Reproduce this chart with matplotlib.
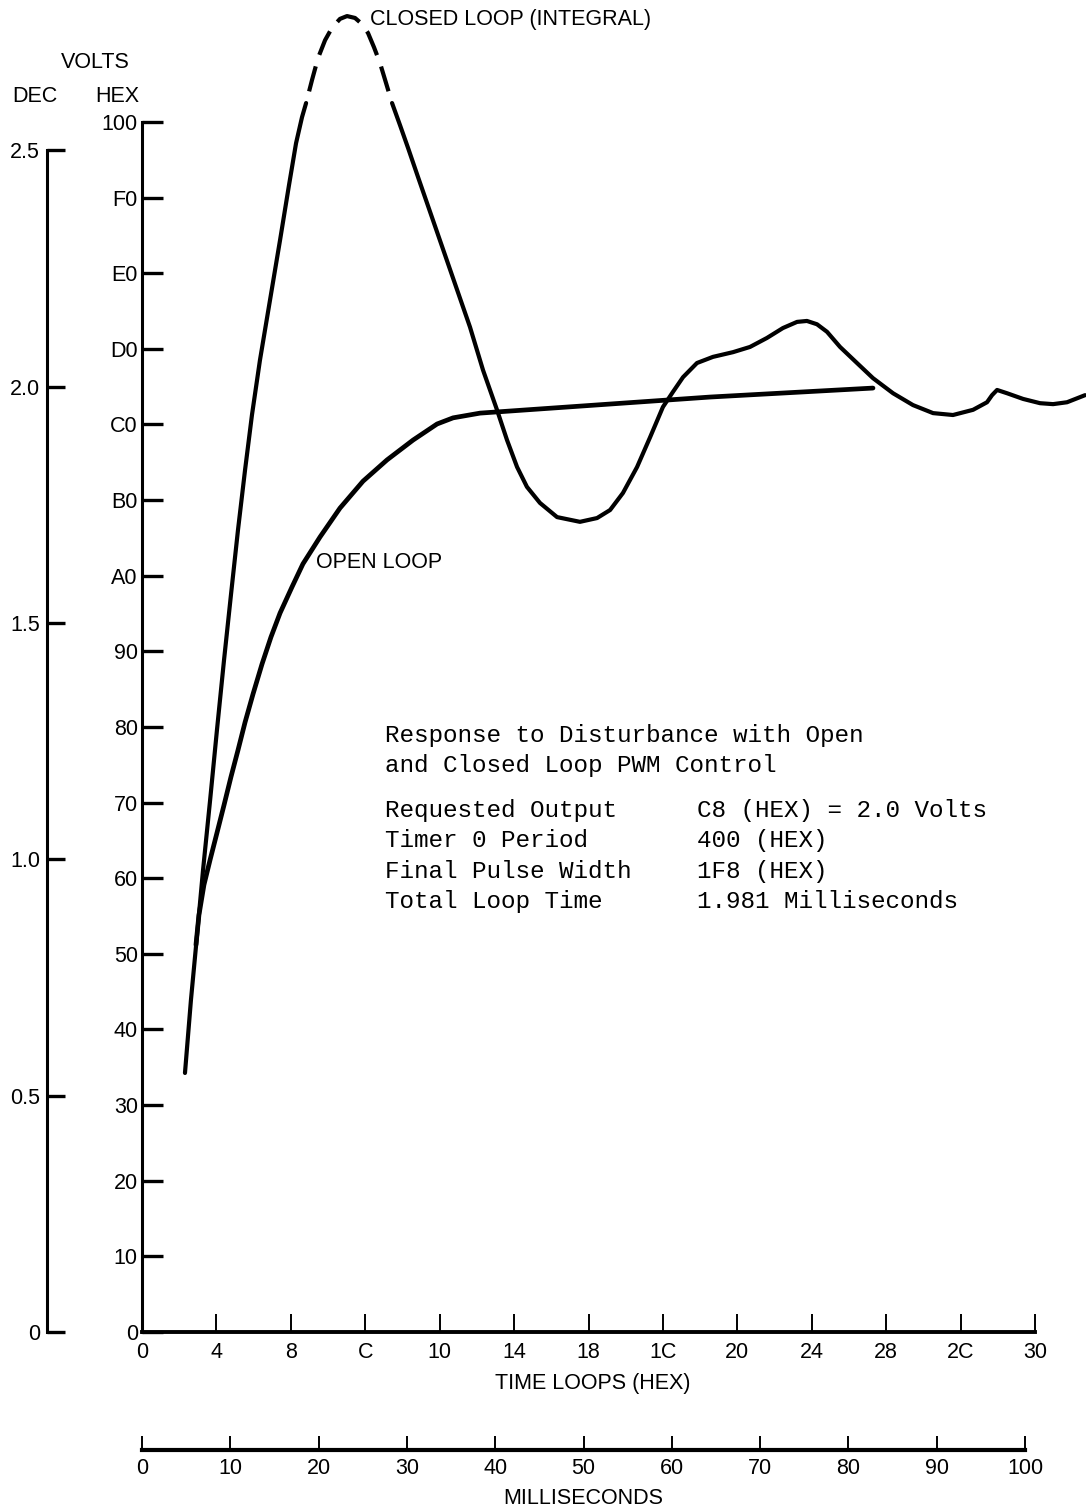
import matplotlib.pyplot as plt

# ------------------------------------------------------------
# Response to disturbance, open vs closed loop PWM control
# x = time loops (hex axis, stored as decimal numbers)
# y = output counts (hex axis, stored as decimal numbers), 100 counts = 1 V
# ------------------------------------------------------------
closed_x = [2.31, 2.63, 2.96, 3.28, 3.66, 4.03, 4.41, 4.78, 5.16, 5.54, 5.91, 6.34,
            6.88, 7.42, 7.90, 8.28, 8.60, 8.82, 9.14, 9.46, 9.84, 10.21, 10.64, 11.02,
            11.45, 11.83, 12.15, 12.47, 12.79, 13.12, 13.44, 13.87, 14.30, 14.84,
            17.63, 18.33, 19.08, 19.62, 20.16, 20.69, 21.39, 22.31, 23.54, 24.46,
            25.16, 25.85, 26.61, 27.31, 28.00, 28.54, 29.08, 29.83, 30.69, 31.77,
            32.68, 33.59, 34.45, 35.21, 35.74, 36.28, 36.82, 37.52, 38.43, 39.29,
            40.37, 41.44, 42.52, 43.59, 44.67, 45.42, 45.69, 45.96, 46.50, 47.36,
            48.27, 48.97, 49.72, 50.69]
closed_y = [54.8, 70.2, 84.0, 97.7, 112.5, 127.4, 142.2, 155.9, 169.7, 182.4, 194.0, 205.6,
            218.3, 231.0, 242.6, 251.5, 257.0, 260.0, 264.9, 269.5, 273.3, 275.9, 277.8, 278.4,
            278.0, 276.7, 274.8, 271.8, 268.5, 264.2, 260.0, 255.3, 250.5, 244.3,
            212.6, 203.5, 195.1, 188.7, 183.0, 178.8, 175.4, 172.4, 171.4, 172.2,
            173.9, 177.5, 183.0, 189.3, 195.7, 198.9, 202.0, 205.0, 206.3, 207.3,
            208.4, 210.3, 212.4, 213.7, 213.9, 213.2, 211.6, 208.4, 205.0, 201.8,
            198.6, 196.1, 194.4, 194.0, 195.1, 196.7, 198.2, 199.3, 198.6, 197.4,
            196.5, 196.3, 196.7, 198.2]
# part of the closed loop trace drawn dashed (off the top of the recorder)
dash_from, dash_to = 8.82, 13.44

open_x = [2.90, 3.06, 3.33, 3.66, 4.03, 4.41, 4.78, 5.16, 5.54, 5.97, 6.45, 6.93,
          7.42, 8.06, 8.65, 9.57, 10.64, 11.88, 13.17, 14.57, 15.86, 16.72, 18.17,
          30.53, 39.29]
open_y = [81.9, 88.2, 94.6, 99.9, 105.6, 111.5, 117.4, 123.1, 129.0, 135.0, 141.3, 147.0,
          152.1, 157.6, 162.5, 168.2, 174.3, 180.0, 184.5, 188.7, 192.1, 193.4, 194.4,
          197.8, 199.7]

hex_ticks = list(range(0, 257, 16))
hex_labels = ['0', '10', '20', '30', '40', '50', '60', '70', '80', '90',
              'A0', 'B0', 'C0', 'D0', 'E0', 'F0', '100']
loop_ticks = list(range(0, 49, 4))
loop_labels = ['0', '4', '8', 'C', '10', '14', '18', '1C', '20', '24', '28', '2C', '30']
volt_ticks = [0, 0.5, 1.0, 1.5, 2.0, 2.5]
volt_labels = ['0', '0.5', '1.0', '1.5', '2.0', '2.5']
ms_ticks = list(range(0, 101, 10))

title_lines = ['Response to Disturbance with Open', 'and Closed Loop PWM Control']
param_names = ['Requested Output', 'Timer 0 Period', 'Final Pulse Width', 'Total Loop Time']
param_values = ['C8 (HEX) = 2.0 Volts', '400 (HEX)', '1F8 (HEX)', '1.981 Milliseconds']

# ------------------------------------------------------------
plt.rcParams['font.family'] = ['Liberation Sans', 'DejaVu Sans']
W, H = 1086, 1511
fs = 15.5


def fx(px):
    return px / W


def fy(py):
    return 1 - py / H


fig = plt.figure(figsize=(W / 100, H / 100), dpi=100)

# main axes: hex volts vs time loops
ax = fig.add_axes([fx(142), fy(1332), fx(W - 142), 1332 / H])
ax.set_xlim(0, 50.74)
ax.set_ylim(0, 281.8)
ax.patch.set_visible(False)

solid1 = [(x, y) for x, y in zip(closed_x, closed_y) if x <= dash_from]
dashed = [(x, y) for x, y in zip(closed_x, closed_y) if dash_from <= x <= dash_to]
solid2 = [(x, y) for x, y in zip(closed_x, closed_y) if x >= dash_to]
for seg in (solid1, solid2):
    ax.plot(*zip(*seg), color='black', lw=3.0, solid_capstyle='round', solid_joinstyle='round')
ax.plot(*zip(*dashed), color='black', lw=3.0, linestyle=(6.2, (6.2, 2.9)))
ax.plot(open_x, open_y, color='black', lw=3.4, solid_capstyle='round', solid_joinstyle='round')

for s in ('top', 'right'):
    ax.spines[s].set_visible(False)
ax.spines['left'].set_bounds(0, 256)
ax.spines['left'].set_linewidth(2.2)
ax.spines['bottom'].set_bounds(0, 48)
ax.spines['bottom'].set_linewidth(2.8)

ax.set_yticks(hex_ticks, hex_labels)
ax.set_xticks(loop_ticks, loop_labels)
ax.tick_params(axis='y', direction='in', length=15, width=2.4, pad=3, labelsize=fs)
ax.tick_params(axis='x', direction='in', length=13, width=1.4, pad=7, labelsize=fs)
ax.set_xlabel('TIME LOOPS (HEX)', fontsize=fs)
ax.xaxis.set_label_coords(0.477, -0.031)

# decimal volts axis on the far left
axd = ax.twinx()
axd.set_ylim(ax.get_ylim()[0] / 100, ax.get_ylim()[1] / 100)
for s in ('top', 'right', 'bottom'):
    axd.spines[s].set_visible(False)
axd.spines['left'].set_visible(True)
axd.spines['left'].set_position(('axes', -95 / 944))
axd.spines['left'].set_bounds(0, 2.5)
axd.spines['left'].set_linewidth(2.2)
axd.yaxis.set_ticks_position('left')
axd.set_yticks(volt_ticks, volt_labels)
axd.tick_params(axis='y', direction='in', length=13, width=2.4, pad=5, labelsize=fs)

# milliseconds axis below
axm = fig.add_axes([fx(142), fy(1450), fx(1025 - 142), 0.01])
axm.set_xlim(0, 100)
axm.patch.set_visible(False)
for s in ('top', 'right', 'left'):
    axm.spines[s].set_visible(False)
axm.spines['bottom'].set_linewidth(3.0)
axm.set_yticks([])
axm.set_xticks(ms_ticks, [str(t) for t in ms_ticks])
axm.tick_params(axis='x', direction='in', length=10, width=1.4, pad=6, labelsize=fs)
axm.set_xlabel('MILLISECONDS', fontsize=fs)
axm.xaxis.set_label_coords(0.5, -2.5)

# axis headings
fig.text(fx(95), fy(62), 'VOLTS', fontsize=fs, ha='center', va='center')
fig.text(fx(35), fy(96), 'DEC', fontsize=fs, ha='center', va='center')
fig.text(fx(117), fy(96), 'HEX', fontsize=fs, ha='center', va='center')

# curve labels
fig.text(fx(370), fy(20), 'CLOSED LOOP (INTEGRAL)', fontsize=fs, ha='left', va='center')
fig.text(fx(316), fy(563), 'OPEN LOOP', fontsize=fs, ha='left', va='center')

# notes block
mono = dict(family=['Liberation Mono', 'DejaVu Sans Mono'], fontsize=17.5, va='center')
for i, line in enumerate(title_lines):
    fig.text(fx(385), fy(735 + 30.5 * i), line, ha='left', **mono)
for i, (name, val) in enumerate(zip(param_names, param_values)):
    fig.text(fx(385), fy(810 + 30.5 * i), name, ha='left', **mono)
    fig.text(fx(697), fy(810 + 30.5 * i), val, ha='left', **mono)

fig.savefig('out.png', dpi=100)
